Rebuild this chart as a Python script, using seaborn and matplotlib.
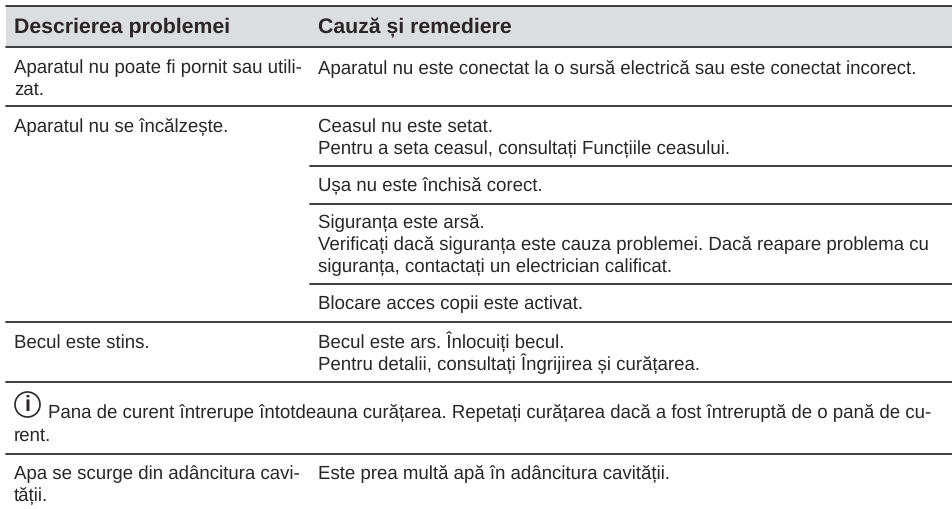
#!/usr/bin/env python3

import seaborn as sns
import matplotlib.pyplot as plt
from matplotlib.patches import Circle, Rectangle

W, H = 952, 510

header_labels = ["Descrierea problemei", "Cauză și remediere"]
left_column = [
    "Aparatul nu poate fi pornit sau utili-\nzat.",
    "Aparatul nu se încălzește.",
    "Becul este stins.",
    "Apa se scurge din adâncitura cavi-\ntății.",
]
right_column = [
    "Aparatul nu este conectat la o sursă electrică sau este conectat incorect.",
    "Ceasul nu este setat.\nPentru a seta ceasul, consultați Funcțiile ceasului.",
    "Ușa nu este închisă corect.",
    "Siguranța este arsă.\nVerificați dacă siguranța este cauza problemei. Dacă reapare problema cu\nsiguranța, contactați un electrician calificat.",
    "Blocare acces copii este activat.",
    "Becul este ars. Înlocuiți becul.\nPentru detalii, consultați Îngrijirea și curățarea.",
    "Este prea multă apă în adâncitura cavității.",
]
note_lines = [
    "Pana de curent întrerupe întotdeauna curățarea. Repetați curățarea dacă a fost întreruptă de o pană de cu-",
    "rent.",
]

left_base = [73, 132, 348, 479]
right_base = [73, 132, 191, 228, 309, 348, 479]
full_rules = [7, 47.5, 107, 323, 383, 455]
right_rules = [167, 205, 285]

sns.set_theme(style="white")
plt.rcParams['font.family'] = ['Liberation Sans', 'DejaVu Sans']
plt.rcParams['text.hinting'] = 'no_hinting'

fig = plt.figure(figsize=(W / 100, H / 100), dpi=100)
ax = fig.add_axes([0, 0, 1, 1])
ax.set_xlim(0, W)
ax.set_ylim(H, 0)
ax.axis("off")

ink = "#2a2627"
fs = 13.45
line_step = 21.8


def draw_cell(x, y, label):
    """Draw a cell line by line, y is the baseline of the first line."""
    for i, line in enumerate(label.split("\n")):
        ax.text(x, y + i * line_step, line, fontsize=fs, color=ink, va="baseline")


ax.add_patch(Rectangle((6, 7), 946, 40.5, facecolor="#dcddde", edgecolor="none"))
for y in full_rules:
    ax.plot([6, W], [y, y], color="#2e2e2e", lw=1.3)
for y in right_rules:
    ax.plot([310, W], [y, y], color="#2e2e2e", lw=1.3)

ax.text(14, 33, header_labels[0], fontsize=15.3, fontweight="bold", color=ink, va="baseline")
ax.text(318, 33, header_labels[1], fontsize=15.3, fontweight="bold", color=ink, va="baseline")

for label, y in zip(left_column, left_base):
    draw_cell(14, y, label)
for label, y in zip(right_column, right_base):
    draw_cell(318, y, label)

ax.add_patch(Circle((27.5, 405.5), 12.5, facecolor="white", edgecolor=ink, lw=1.2))
ax.text(27.5, 405.5, "i", fontsize=15.5, fontweight="bold", color=ink, ha="center", va="center")
ax.text(48, 418, note_lines[0], fontsize=fs, color=ink, va="baseline")
ax.text(14, 441, note_lines[1], fontsize=fs, color=ink, va="baseline")

fig.savefig("out.png", dpi=100)
